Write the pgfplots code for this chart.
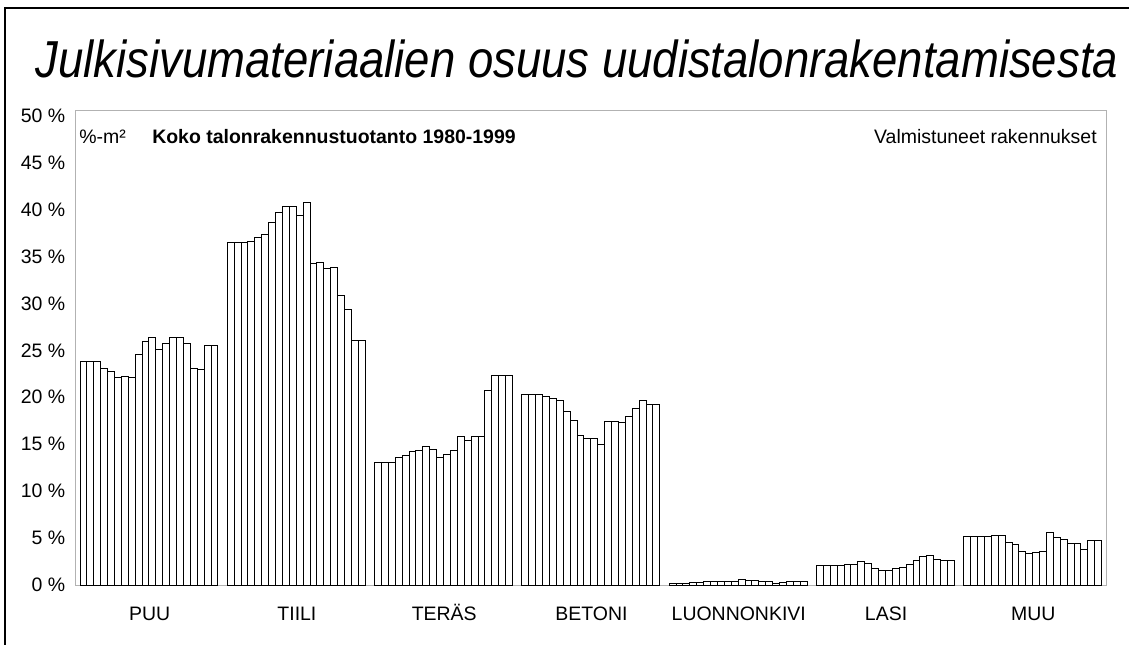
\documentclass[border=0pt]{standalone}
\usepackage{fontspec}
\setmainfont{Liberation Sans}
\usepackage{graphicx}
\usepackage{pgfplots}
\usepackage{pgfplotstable}
\pgfplotsset{compat=1.18}

\pgfplotstableread{
PUU   TIILI  TERAS  BETONI KIVI  LASI  MUU
23.76 36.49  13.01  20.25  0.14  2.06  5.18
23.76 36.49  13.01  20.25  0.14  2.06  5.18
23.76 36.49  13.01  20.25  0.14  2.06  5.18
23.05 36.56  13.58  20.11  0.25  2.06  5.18
22.77 36.99  13.76  19.82  0.25  2.20  5.28
22.06 37.30  14.22  19.68  0.35  2.20  5.28
22.17 38.60  14.33  18.51  0.35  2.52  4.57
22.06 39.65  14.72  17.48  0.35  2.30  4.33
24.54 40.30  14.40  15.92  0.39  1.74  3.62
25.99 40.30  13.58  15.64  0.39  1.56  3.40
26.42 39.36  13.90  15.60  0.57  1.56  3.51
25.07 40.70  14.33  14.93  0.50  1.74  3.62
25.71 34.22  15.78  17.41  0.50  1.88  5.57
26.35 34.33  15.39  17.41  0.39  2.20  5.11
26.35 33.76  15.78  17.30  0.32  2.62  4.86
25.71 33.87  15.78  17.91  0.18  3.05  4.43
23.05 30.82  20.67  18.76  0.25  3.16  4.43
22.94 29.36  22.34  19.61  0.35  2.73  3.83
25.53 26.06  22.34  19.22  0.39  2.62  4.75
25.53 26.06  22.34  19.22  0.39  2.62  4.75
}\data

\newcommand\bw{0.04684}
\newcommand\lbl{\fontsize{14.6pt}{17pt}\selectfont}

\begin{document}
\begin{tikzpicture}
\path[use as bounding box] (-57pt,-44.25pt) rectangle (789.75pt,438.75pt);
\begin{axis}[
  at={(0,0)}, anchor=south west,
  scale only axis, width=773.25pt, height=355.5pt,
  xmin=-0.5, xmax=6.5, ymin=0, ymax=50.5,
  xtick={0,1,2,3,4,5,6},
  xticklabels={PUU,TIILI,TERÄS,BETONI,LUONNONKIVI,LASI,MUU},
  ytick={0,5,10,15,20,25,30,35,40,45,50},
  yticklabels={0 \%,5 \%,10 \%,15 \%,20 \%,25 \%,30 \%,35 \%,40 \%,45 \%,50 \%},
  major tick length=0pt, tick style={draw=none},
  axis line style={draw=gray!60, line width=0.75pt},
  ticklabel style={font=\lbl},
  yticklabel style={xshift=-4.5pt},
  xticklabel style={anchor=base, yshift=-26.25pt},
  clip=false,
]
\addplot[ybar, bar width=\bw, bar shift=0pt, fill=white, draw=black, line width=0.75pt] table[x expr={0-0.4728+\bw*(\coordindex+0.5)}, y=PUU]{\data};
\addplot[ybar, bar width=\bw, bar shift=0pt, fill=white, draw=black, line width=0.75pt] table[x expr={1-0.4728+\bw*(\coordindex+0.5)}, y=TIILI]{\data};
\addplot[ybar, bar width=\bw, bar shift=0pt, fill=white, draw=black, line width=0.75pt] table[x expr={2-0.4728+\bw*(\coordindex+0.5)}, y=TERAS]{\data};
\addplot[ybar, bar width=\bw, bar shift=0pt, fill=white, draw=black, line width=0.75pt] table[x expr={3-0.4728+\bw*(\coordindex+0.5)}, y=BETONI]{\data};
\addplot[ybar, bar width=\bw, bar shift=0pt, fill=white, draw=black, line width=0.75pt] table[x expr={4-0.4728+\bw*(\coordindex+0.5)}, y=KIVI]{\data};
\addplot[ybar, bar width=\bw, bar shift=0pt, fill=white, draw=black, line width=0.75pt] table[x expr={5-0.4728+\bw*(\coordindex+0.5)}, y=LASI]{\data};
\addplot[ybar, bar width=\bw, bar shift=0pt, fill=white, draw=black, line width=0.75pt] table[x expr={6-0.4728+\bw*(\coordindex+0.5)}, y=MUU]{\data};
\end{axis}
\begin{scope}[x=0.75pt, y=-0.75pt, shift={(-57pt,438.75pt)}]
\draw[line width=1.5pt] (5,660) -- (5,8) -- (1140,8);
\node[anchor=base, inner sep=0pt] at (577,78)
  {\scalebox{0.875}[1]{\fontsize{39pt}{45pt}\selectfont\itshape Julkisivumateriaalien osuus uudistalonrakentamisesta}};
\node[anchor=base west, inner sep=0pt, font=\lbl] at (79,144) {\%-m²};
\node[anchor=base west, inner sep=0pt, font=\lbl\bfseries] at (152,144) {Koko talonrakennustuotanto 1980-1999};
\node[anchor=base east, inner sep=0pt, font=\lbl] at (1097,144) {Valmistuneet rakennukset};
\end{scope}
\end{tikzpicture}
\end{document}
